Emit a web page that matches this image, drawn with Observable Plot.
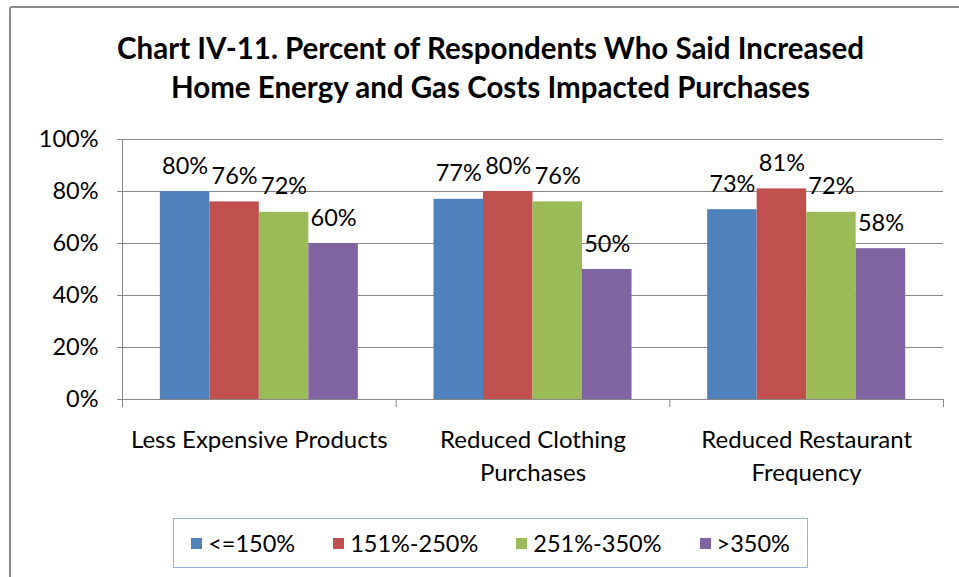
<!DOCTYPE html>
<html>
<head>
<meta charset="utf-8">
<script src="https://cdn.jsdelivr.net/npm/d3@7"></script>
<script src="https://cdn.jsdelivr.net/npm/@observablehq/plot@0.6"></script>
<style>
  html, body { margin: 0; padding: 0; background: #fff; }
  #wrap { position: relative; width: 959px; height: 577px; overflow: hidden; font-family: Lato, "Open Sans", sans-serif; color: #000; }
  #outer { position: absolute; left: 9px; top: 6px; width: 1000px; height: 620px; border-left: 2px solid #8a8a8a; border-top: 2px solid #8a8a8a; border-top-left-radius: 3px; }
  #title { position: absolute; left: 0; top: 28px; width: 981px; text-align: center; font-weight: bold; font-size: 29.5px; line-height: 39px; }
  #chart { position: absolute; left: 0; top: 0; }
  #legend { position: absolute; left: 173px; top: 518px; width: 635px; height: 50px; box-sizing: border-box; border: 1.5px solid #97b4d8; display: flex; align-items: center; justify-content: center; gap: 38px; font-size: 23.5px; }
  .item { display: flex; align-items: center; gap: 6px; }
  .sw { width: 11px; height: 11px; display: inline-block; }
</style>
</head>
<body>
<div id="wrap">
  <div id="outer"></div>
  <div id="chart"></div>
  <div id="title">Chart IV-11. Percent of Respondents Who Said Increased<br>Home Energy and Gas Costs Impacted Purchases</div>
  <div id="legend"></div>
</div>
<script>
const categories = ["Less Expensive Products", "Reduced Clothing\nPurchases", "Reduced Restaurant\nFrequency"];
const series = ["<=150%", "151%-250%", "251%-350%", ">350%"];
const lessExpensive = [80, 76, 72, 60];
const reducedClothing = [77, 80, 76, 50];
const reducedRestaurant = [73, 81, 72, 58];
const yTicks = [0, 20, 40, 60, 80, 100];
const colors = ["#4F81BD", "#C0504D", "#9BBB59", "#8064A2"];

const valuesByCategory = [lessExpensive, reducedClothing, reducedRestaurant];
const data = categories.flatMap((c, i) => series.map((s, j) => ({category: c, series: s, value: valuesByCategory[i][j]})));

const W = 959, H = 577, mTop = 139, mBottom = 178, mLeft = 122, mRight = 16;
const plotH = H - mTop - mBottom;
const gray = "#878787";

const chart = Plot.plot({
  width: W, height: H,
  marginTop: mTop, marginBottom: mBottom, marginLeft: mLeft, marginRight: mRight,
  style: {fontFamily: "Lato, 'Open Sans', sans-serif", color: "#000", background: "transparent", overflow: "visible"},
  fx: {domain: categories, padding: 0, round: false, axis: null, label: null},
  x: {domain: series, paddingInner: 0, paddingOuter: 0.764, round: false, axis: null},
  y: {domain: [0, 100], axis: null},
  color: {domain: series, range: colors},
  marks: [
    Plot.gridY(yTicks, {stroke: gray, strokeOpacity: 1, strokeWidth: 1}),
    Plot.axisY(yTicks, {tickSize: 5, tickPadding: 19, tickFormat: d => d + "%", fontSize: 23.5, stroke: gray, fill: "#000", strokeOpacity: 1, label: null}),
    Plot.frame({anchor: "left", facet: "super", stroke: gray, insetBottom: -7}),
    Plot.frame({anchor: "right", stroke: gray, insetTop: plotH, insetBottom: -7}),
    Plot.barY(data, {fx: "category", x: "series", y: "value", fill: "series"}),
    Plot.text(data, {fx: "category", x: "series", y: "value", text: d => d.value + "%", lineAnchor: "bottom", dy: -18, fontSize: 23.5, fill: "#000"}),
    Plot.axisFx({anchor: "bottom", tickSize: 0, tickPadding: 25, lineAnchor: "top", lineHeight: 1.38, fontSize: 24, fill: "#000", label: null})
  ]
});
document.getElementById("chart").appendChild(chart);

const legend = document.getElementById("legend");
series.forEach((s, i) => {
  const item = document.createElement("div");
  item.className = "item";
  const sw = document.createElement("span");
  sw.className = "sw";
  sw.style.background = colors[i];
  const t = document.createElement("span");
  t.textContent = s;
  item.appendChild(sw); item.appendChild(t);
  legend.appendChild(item);
});
</script>
</body>
</html>
